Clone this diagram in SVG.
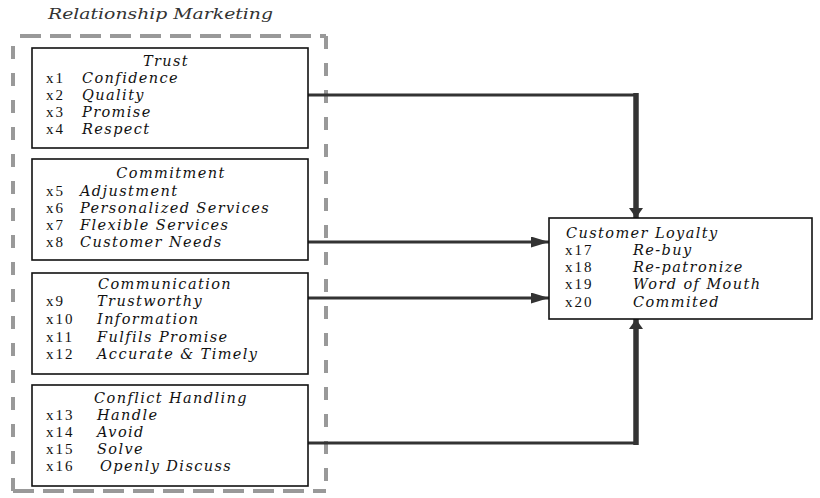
<svg xmlns="http://www.w3.org/2000/svg" width="820" height="498" viewBox="0 0 820 498">
<style>
.box{fill:#fff;stroke:#111;stroke-width:1.6}
.t{font-family:"DejaVu Serif","Liberation Serif",serif;font-style:italic;font-size:14.5px;letter-spacing:1.4px;fill:#111}
.c{text-anchor:middle}
.n{font-family:"Liberation Serif","DejaVu Serif",serif;font-size:15px;letter-spacing:2px;fill:#111}
.h{stroke:#333;stroke-width:3;fill:none}
.v{stroke:#333;stroke-width:5.5;fill:none}
.dash{stroke:#999;stroke-width:4;fill:none}
</style>
<defs>
<marker id="ah" viewBox="0 0 18 11" refX="18" refY="5.5" markerWidth="18" markerHeight="11" markerUnits="userSpaceOnUse" orient="auto">
<path d="M0,0 L18,5.5 L0,11 Z" fill="#333"/>
</marker>
<marker id="av" viewBox="0 0 10 14" refX="10" refY="7" markerWidth="10" markerHeight="14" markerUnits="userSpaceOnUse" orient="auto">
<path d="M0,0 L10,7 L0,14 Z" fill="#333"/>
</marker>
</defs>
<rect width="820" height="498" fill="#fff"/>
<g id="group-rm">
<text class="t" x="48" y="19" style="fill:#333;letter-spacing:0" textLength="225" lengthAdjust="spacingAndGlyphs">Relationship Marketing</text>
<line class="dash" x1="20" y1="36" x2="326" y2="36" stroke-dasharray="21 9"/>
<line class="dash" x1="13" y1="491" x2="326" y2="491" stroke-dasharray="21 9"/>
<line class="dash" x1="13" y1="46" x2="13" y2="491" stroke-dasharray="13 14"/>
<line class="dash" x1="326" y1="36" x2="326" y2="491" stroke-dasharray="13 14"/>
</g>
<g id="connectors">
<polyline class="h" points="308,95 636,95"/>
<line class="v" x1="636" y1="93" x2="636" y2="218" marker-end="url(#av)"/>
<line class="h" x1="308" y1="242" x2="549" y2="242" marker-end="url(#ah)"/>
<line class="h" x1="308" y1="298" x2="549" y2="298" marker-end="url(#ah)"/>
<polyline class="h" points="308,443 636,443"/>
<line class="v" x1="636" y1="445" x2="636" y2="319" marker-end="url(#av)"/>
</g>
<g id="trust">
<rect class="box" x="32" y="48" width="276" height="100"/>
<text class="t c" x="166" y="66">Trust</text>
<text class="n" x="46" y="83">x1</text><text class="t" x="82" y="83">Confidence</text>
<text class="n" x="46" y="100">x2</text><text class="t" x="82" y="100">Quality</text>
<text class="n" x="46" y="117">x3</text><text class="t" x="82" y="117">Promise</text>
<text class="n" x="46" y="134">x4</text><text class="t" x="82" y="134">Respect</text>
</g>
<g id="commitment">
<rect class="box" x="32" y="159" width="276" height="101"/>
<text class="t c" x="171" y="178">Commitment</text>
<text class="n" x="46" y="196">x5</text><text class="t" x="80" y="196">Adjustment</text>
<text class="n" x="46" y="213">x6</text><text class="t" x="80" y="213">Personalized Services</text>
<text class="n" x="46" y="230">x7</text><text class="t" x="80" y="230">Flexible Services</text>
<text class="n" x="46" y="247">x8</text><text class="t" x="80" y="247">Customer Needs</text>
</g>
<g id="communication">
<rect class="box" x="32" y="273" width="276" height="101"/>
<text class="t c" x="165" y="289">Communication</text>
<text class="n" x="46" y="306">x9</text><text class="t" x="97" y="306">Trustworthy</text>
<text class="n" x="46" y="324">x10</text><text class="t" x="97" y="324">Information</text>
<text class="n" x="46" y="342">x11</text><text class="t" x="97" y="342">Fulfils Promise</text>
<text class="n" x="46" y="359">x12</text><text class="t" x="97" y="359">Accurate &amp; Timely</text>
</g>
<g id="conflict">
<rect class="box" x="32" y="385" width="276" height="101"/>
<text class="t c" x="171" y="403">Conflict Handling</text>
<text class="n" x="46" y="420">x13</text><text class="t" x="97" y="420">Handle</text>
<text class="n" x="46" y="437">x14</text><text class="t" x="97" y="437">Avoid</text>
<text class="n" x="46" y="454">x15</text><text class="t" x="97" y="454">Solve</text>
<text class="n" x="46" y="471">x16</text><text class="t" x="100" y="471">Openly Discuss</text>
</g>
<g id="loyalty">
<rect class="box" x="549" y="218" width="263" height="101"/>
<text class="t" x="566" y="238">Customer Loyalty</text>
<text class="n" x="565" y="255">x17</text><text class="t" x="633" y="255">Re-buy</text>
<text class="n" x="565" y="272">x18</text><text class="t" x="633" y="272">Re-patronize</text>
<text class="n" x="565" y="289">x19</text><text class="t" x="633" y="289">Word of Mouth</text>
<text class="n" x="565" y="307">x20</text><text class="t" x="633" y="307">Commited</text>
</g>
</svg>
